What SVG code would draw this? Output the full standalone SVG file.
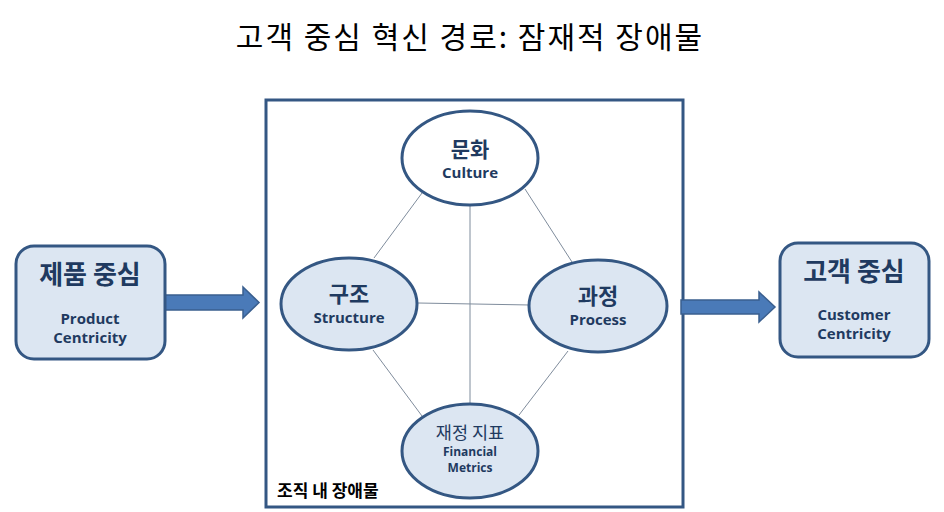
<svg xmlns="http://www.w3.org/2000/svg" width="944" height="512" viewBox="0 0 944 512">
<defs>
<style>
.kr{font-family:"Noto Sans CJK KR","Noto Sans",sans-serif;}
.en{font-family:"Open Sans","Noto Sans","Liberation Sans",sans-serif;font-weight:bold;}
.lab{fill:#1f3a60;text-anchor:middle;}
.node{stroke:#345783;stroke-width:3;}
.blue{fill:#dce6f2;}
.conn{stroke:#7f8c9c;stroke-width:1;fill:none;}
.arrow{fill:#4a7ab8;stroke:#3a5f8f;stroke-width:1.5;}
</style>
</defs>
<rect width="944" height="512" fill="#ffffff"/>
<text x="470" y="48" class="kr" font-size="30" letter-spacing="2" text-anchor="middle" fill="#000">고객 중심 혁신 경로: 잠재적 장애물</text>

<g id="barrier-box">
<rect x="266" y="100" width="417" height="407" fill="none" stroke="#345783" stroke-width="3"/>
<text x="277" y="497" class="kr" font-size="17" font-weight="bold" fill="#000">조직 내 장애물</text>
</g>

<g id="connectors">
<line class="conn" x1="470" y1="205" x2="470" y2="404"/>
<line class="conn" x1="422" y1="193" x2="374" y2="258"/>
<line class="conn" x1="525" y1="189" x2="572" y2="262"/>
<line class="conn" x1="418" y1="303" x2="530" y2="305"/>
<line class="conn" x1="373" y1="350" x2="422" y2="416"/>
<line class="conn" x1="568" y1="351" x2="519" y2="415"/>
<polygon class="arrow" points="165,295 243,295 243,287 259,302.5 243,318 243,310 165,310"/>
<polygon class="arrow" points="681,300 759,300 759,292 775,307 759,322 759,314 681,314"/>
</g>

<g id="culture">
<ellipse class="node" cx="470" cy="158" rx="68" ry="47" fill="#ffffff"/>
<text x="470" y="157" class="kr lab" font-size="21" font-weight="bold">문화</text>
<text x="470" y="178" class="en lab" font-size="15">Culture</text>
</g>

<g id="structure">
<ellipse class="node blue" cx="349" cy="304" rx="68" ry="46"/>
<text x="349" y="302" class="kr lab" font-size="22" font-weight="bold">구조</text>
<text x="349" y="323" class="en lab" font-size="15">Structure</text>
</g>

<g id="process">
<ellipse class="node blue" cx="598" cy="306" rx="69" ry="46"/>
<text x="598" y="304" class="kr lab" font-size="22" font-weight="bold">과정</text>
<text x="598" y="325" class="en lab" font-size="15">Process</text>
</g>

<g id="financial">
<ellipse class="node blue" cx="470" cy="451" rx="68" ry="47"/>
<text x="470" y="439" class="kr lab" font-size="17.5">재정 지표</text>
<text x="470" y="456" class="en lab" font-size="12">Financial</text>
<text x="470" y="472" class="en lab" font-size="12">Metrics</text>
</g>

<g id="product-centricity">
<rect class="node blue" x="16" y="246" width="149" height="113" rx="18"/>
<text x="90" y="284" class="kr lab" font-size="26" font-weight="bold">제품 중심</text>
<text x="90" y="324" class="en lab" font-size="15">Product</text>
<text x="90" y="343" class="en lab" font-size="15">Centricity</text>
</g>

<g id="customer-centricity">
<rect class="node blue" x="780" y="243" width="149" height="114" rx="18"/>
<text x="854" y="281" class="kr lab" font-size="26" font-weight="bold">고객 중심</text>
<text x="854" y="320" class="en lab" font-size="15">Customer</text>
<text x="854" y="339" class="en lab" font-size="15">Centricity</text>
</g>
</svg>
